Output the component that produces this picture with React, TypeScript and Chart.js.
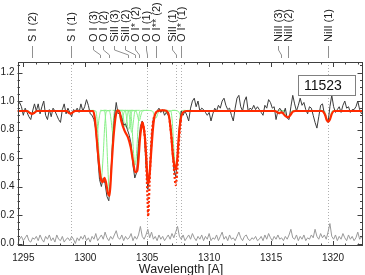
import { useEffect, useRef } from "react";
import { Chart, registerables } from "chart.js";
Chart.register(...registerables);

// ---- data ----
const obsStart = 1294.55;
const obsStep = 0.15;
const obsFlux = [
  0.97, 0.99, 0.96, 0.90, 0.95, 0.92, 0.89, 0.87, 0.93, 0.98,
  0.93, 0.98, 0.91, 0.96, 1.00, 0.90, 0.87, 0.94, 0.89, 0.95,
  0.93, 0.90, 0.87, 0.85, 0.94, 0.98, 0.91, 0.95, 0.92, 0.89,
  0.94, 0.93, 0.95, 0.92, 0.98, 0.93, 0.96, 1.01, 0.97, 0.91,
  0.90, 0.87, 0.80, 0.62, 0.45, 0.40, 0.46, 0.42, 0.33, 0.30,
  0.45, 0.70, 0.88, 0.99, 0.91, 0.92, 0.88, 0.83, 0.84, 0.80,
  0.76, 0.70, 0.55, 0.46, 0.50, 0.70, 0.82, 0.86, 0.80, 0.55,
  0.38, 0.50, 0.75, 0.88, 0.90, 0.93, 0.95, 0.92, 0.94, 0.90,
  0.92, 0.90, 0.86, 0.72, 0.52, 0.47, 0.60, 0.82, 0.93, 0.90,
  0.93, 0.90, 0.86, 0.95, 1.00, 1.02, 0.96, 1.00, 0.93, 0.95,
  0.94, 0.92, 0.90, 0.92, 0.86, 0.91, 0.95, 0.93, 0.97, 0.95,
  1.00, 1.02, 0.97, 0.94, 0.95, 0.90, 0.86, 0.95, 1.02, 1.04,
  0.96, 0.93, 1.00, 1.03, 0.93, 0.95, 0.94, 0.97, 0.94, 0.96,
  0.94, 0.92, 0.90, 0.97, 0.95, 1.01, 0.99, 0.95, 0.96, 0.87,
  0.93, 0.95, 0.93, 0.91, 0.95, 0.88, 0.87, 0.96, 1.04, 0.98,
  0.93, 0.97, 1.02, 0.97, 0.99, 0.94, 0.91, 0.96, 0.95, 0.90,
  0.85, 0.81, 0.89, 0.97, 0.98, 0.91, 0.88, 0.85, 0.96, 1.04,
  0.96, 0.92, 0.94, 0.96, 0.92, 0.97, 1.00, 0.95, 0.96, 0.92,
  0.94, 0.94, 0.96, 1.00, 0.94, 0.91, 0.93,
];
const errFlux = [
  0.00, 0.03, 0.05, 0.02, 0.04, 0.06, 0.02, 0.01, 0.04, 0.03,
  0.05, 0.02, 0.06, 0.03, 0.01, 0.05, 0.03, 0.06, 0.02, 0.04,
  0.01, 0.06, 0.03, 0.02, 0.05, 0.01, 0.03, 0.04, 0.02, 0.05,
  0.03, 0.00, 0.04, 0.02, 0.05, 0.03, 0.06, 0.02, 0.04, 0.01,
  0.05, 0.03, 0.07, 0.02, 0.04, 0.06, 0.03, 0.08, 0.04, 0.02,
  0.05, 0.03, 0.06, 0.09, 0.04, 0.03, 0.06, 0.02, 0.05, 0.03,
  0.04, 0.07, 0.02, 0.05, 0.03, 0.06, 0.12, 0.05, 0.03, 0.06,
  0.10, 0.04, 0.08, 0.03, 0.05, 0.02, 0.06, 0.03, 0.05, 0.02,
  0.04, 0.06, 0.03, 0.07, 0.04, 0.08, 0.12, 0.05, 0.03, 0.06,
  0.02, 0.04, 0.06, 0.03, 0.07, 0.04, 0.02, 0.05, 0.03, 0.06,
  0.02, 0.05, 0.03, 0.07, 0.02, 0.04, 0.03, 0.06, 0.02, 0.05,
  0.08, 0.03, 0.05, 0.02, 0.06, 0.03, 0.04, 0.02, 0.05, 0.08,
  0.04, 0.02, 0.05, 0.06, 0.03, 0.02, 0.04, 0.03, 0.05, 0.02,
  0.03, 0.05, 0.02, 0.06, 0.03, 0.07, 0.04, 0.02, 0.05, 0.03,
  0.06, 0.03, 0.04, 0.02, 0.05, 0.03, 0.06, 0.10, 0.04, 0.03,
  0.06, 0.02, 0.05, 0.03, 0.06, 0.02, 0.04, 0.03, 0.06, 0.04,
  0.10, 0.05, 0.03, 0.07, 0.04, 0.06, 0.03, 0.08, 0.14, 0.05,
  0.03, 0.06, 0.02, 0.05, 0.03, 0.07, 0.04, 0.02, 0.06, 0.03,
  0.05, 0.02, 0.04, 0.08, 0.03, 0.05, 0.02,
];

const modelWave = [
  1294.5, 1295.3, 1295.5, 1295.7, 1295.9, 1296.1, 1298.5, 1298.68, 1298.82, 1298.98,
  1299.2, 1300.5, 1300.63, 1300.76, 1300.89, 1301.03, 1301.17, 1301.3, 1301.43, 1301.55,
  1301.67, 1301.84, 1301.96, 1302.1, 1302.24, 1302.38, 1302.51, 1302.64, 1302.78, 1302.91,
  1303.18, 1303.45, 1303.67, 1303.85, 1304.04, 1304.2, 1304.31, 1304.42, 1304.52, 1304.6,
  1304.68, 1304.8, 1304.93, 1305.03, 1305.1, 1305.18, 1305.33, 1305.47, 1305.61, 1305.87,
  1306.14, 1306.41, 1306.68, 1306.82, 1306.95, 1307.08, 1307.22, 1307.32, 1307.43, 1307.54,
  1307.7, 1307.89, 1308.16, 1315.3, 1315.5, 1315.65, 1315.8, 1315.95, 1316.15, 1316.35,
  1316.55, 1316.75, 1316.95, 1319.1, 1319.35, 1319.5, 1319.62, 1319.75, 1319.9, 1320.1,
  1322.5,
];
const modelFlux = [
  0.93, 0.93, 0.918, 0.91, 0.918, 0.93, 0.93, 0.916, 0.912, 0.92,
  0.93, 0.93, 0.93, 0.885, 0.77, 0.63, 0.51, 0.44, 0.43, 0.46,
  0.43, 0.35, 0.335, 0.51, 0.70, 0.84, 0.92, 0.935, 0.92, 0.86,
  0.79, 0.745, 0.675, 0.58, 0.50, 0.51, 0.605, 0.74, 0.81, 0.85,
  0.83, 0.76, 0.60, 0.45, 0.42, 0.47, 0.65, 0.81, 0.90, 0.93,
  0.935, 0.935, 0.92, 0.86, 0.75, 0.61, 0.54, 0.52, 0.60, 0.74,
  0.87, 0.92, 0.93, 0.93, 0.922, 0.915, 0.92, 0.915, 0.895, 0.885,
  0.90, 0.925, 0.93, 0.93, 0.905, 0.865, 0.855, 0.87, 0.91, 0.93,
  0.93,
];
// unconvolved model, only where it departs from the solid curve
const dottedWave = [
  1304.6, 1304.68, 1304.8, 1304.9, 1304.97, 1305.03, 1305.08, 1305.14, 1305.2, 1305.28,
  1305.38, 1305.5, 1305.61, 1306.2, 1306.82, 1306.95, 1307.08, 1307.2, 1307.3, 1307.4,
  1307.5, 1307.6, 1307.72,
];
const dottedFlux = [
  0.85, 0.83, 0.76, 0.62, 0.45, 0.30, 0.19, 0.30, 0.45, 0.62,
  0.78, 0.87, 0.90, null, 0.86, 0.75, 0.62, 0.48, 0.41, 0.48,
  0.62, 0.76, 0.87,
];

// individual velocity-component profiles: [wavelength, flux] pairs
const greenProfiles: number[][][] = [
  [[1294.9, 0.935], [1295.4, 0.93], [1295.55, 0.92], [1295.68, 0.912], [1295.81, 0.92], [1295.96, 0.93], [1296.5, 0.935]],
  [[1298.0, 0.935], [1298.55, 0.93], [1298.7, 0.92], [1298.82, 0.912], [1298.95, 0.92], [1299.1, 0.93], [1299.6, 0.935]],
  [[1300.2, 0.935], [1300.65, 0.93], [1300.78, 0.88], [1300.88, 0.81], [1300.95, 0.78], [1301.02, 0.81], [1301.12, 0.88], [1301.25, 0.93], [1301.7, 0.935]],
  [[1300.5, 0.935], [1300.85, 0.93], [1300.98, 0.84], [1301.1, 0.64], [1301.2, 0.50], [1301.28, 0.44], [1301.36, 0.50], [1301.46, 0.64], [1301.58, 0.84], [1301.72, 0.93], [1302.1, 0.935]],
  [[1301.2, 0.935], [1301.55, 0.93], [1301.68, 0.82], [1301.8, 0.58], [1301.9, 0.40], [1301.96, 0.345], [1302.02, 0.40], [1302.12, 0.58], [1302.24, 0.82], [1302.37, 0.93], [1302.8, 0.935]],
  [[1301.5, 0.935], [1301.95, 0.93], [1302.08, 0.87], [1302.18, 0.79], [1302.25, 0.76], [1302.32, 0.79], [1302.42, 0.87], [1302.55, 0.93], [1303.0, 0.935]],
  [[1302.2, 0.935], [1302.65, 0.93], [1302.78, 0.9], [1302.86, 0.87], [1302.92, 0.86], [1302.98, 0.87], [1303.06, 0.9], [1303.19, 0.93], [1303.6, 0.935]],
  [[1302.5, 0.935], [1302.95, 0.93], [1303.08, 0.88], [1303.16, 0.83], [1303.22, 0.82], [1303.28, 0.83], [1303.36, 0.88], [1303.49, 0.93], [1303.9, 0.935]],
  [[1302.8, 0.935], [1303.23, 0.93], [1303.36, 0.87], [1303.44, 0.81], [1303.5, 0.80], [1303.56, 0.81], [1303.64, 0.87], [1303.77, 0.93], [1304.2, 0.935]],
  [[1303.0, 0.935], [1303.48, 0.93], [1303.61, 0.86], [1303.69, 0.8], [1303.75, 0.78], [1303.81, 0.8], [1303.89, 0.86], [1304.02, 0.93], [1304.4, 0.935]],
  [[1303.2, 0.935], [1303.62, 0.93], [1303.76, 0.84], [1303.88, 0.66], [1303.97, 0.57], [1304.02, 0.55], [1304.07, 0.57], [1304.16, 0.66], [1304.28, 0.84], [1304.42, 0.93], [1304.8, 0.935]],
  [[1303.6, 0.935], [1304.08, 0.93], [1304.21, 0.9], [1304.29, 0.87], [1304.35, 0.86], [1304.41, 0.87], [1304.49, 0.9], [1304.62, 0.93], [1305.0, 0.935]],
  [[1304.9, 0.935], [1305.42, 0.93], [1305.55, 0.905], [1305.63, 0.885], [1305.69, 0.88], [1305.75, 0.885], [1305.83, 0.905], [1305.96, 0.93], [1306.4, 0.935]],
  [[1305.8, 0.935], [1306.35, 0.93], [1306.5, 0.92], [1306.6, 0.915], [1306.7, 0.92], [1306.85, 0.93], [1307.3, 0.935]],
  [[1306.5, 0.935], [1306.9, 0.93], [1307.02, 0.86], [1307.14, 0.68], [1307.24, 0.56], [1307.32, 0.53], [1307.4, 0.56], [1307.5, 0.68], [1307.62, 0.86], [1307.74, 0.93], [1308.1, 0.935]],
  [[1307.0, 0.935], [1307.48, 0.93], [1307.6, 0.915], [1307.67, 0.905], [1307.72, 0.90], [1307.77, 0.905], [1307.84, 0.915], [1307.96, 0.93], [1308.5, 0.935]],
  [[1315.0, 0.935], [1315.42, 0.93], [1315.55, 0.92], [1315.65, 0.915], [1315.75, 0.92], [1315.88, 0.93], [1316.2, 0.935]],
  [[1315.6, 0.935], [1316.05, 0.93], [1316.2, 0.905], [1316.3, 0.89], [1316.36, 0.885], [1316.42, 0.89], [1316.52, 0.905], [1316.67, 0.93], [1317.1, 0.935]],
  [[1318.9, 0.935], [1319.3, 0.93], [1319.43, 0.9], [1319.54, 0.865], [1319.62, 0.855], [1319.7, 0.865], [1319.81, 0.9], [1319.94, 0.93], [1320.3, 0.935]],
];

const lineLabels = [
  "S I (2)", "S I (1)", "O I (3)", "O I (2)", "SiII (3)", "SiII (2)", "O I* (2)",
  "O I (1)", "O I** (2)", "SiII (1)", "O I* (1)", "NiII (3)", "NiII (2)", "NiII (1)",
];
// where each label sits, and the rest wavelength the connector points to
const labelWave = [
  1295.68, 1298.83, 1300.65, 1301.41, 1302.34, 1303.21, 1304.02,
  1304.88, 1305.69, 1306.98, 1307.73, 1315.53, 1316.39, 1319.6,
];
const lineWave = [
  1295.68, 1298.83, 1301.19, 1301.94, 1303.47, 1304.02, 1304.36,
  1305.0, 1305.69, 1307.32, 1307.73, 1315.8, 1316.39, 1319.6,
];
const markedLines = [1298.83, 1305.02, 1307.3, 1307.7, 1319.6];

const xTicks = [1295, 1300, 1305, 1310, 1315, 1320];
const yTicks = [0.0, 0.2, 0.4, 0.6, 0.8, 1.0, 1.2];
const xTitle = "Wavelength [A]";
const objectId = "11523";

const FONT = '"Liberation Sans", Arial, Helvetica, sans-serif';

const decorPlugin = {
  id: "decor",
  beforeDatasetsDraw(chart: any) {
    const { ctx, chartArea: a, scales } = chart;
    const x = scales.x;
    ctx.save();
    ctx.strokeStyle = "#b0b0b0";
    ctx.lineWidth = 1;
    ctx.setLineDash([1, 2]);
    for (const w of markedLines) {
      const px = Math.round(x.getPixelForValue(w)) + 0.5;
      ctx.beginPath();
      ctx.moveTo(px, a.top);
      ctx.lineTo(px, a.bottom);
      ctx.stroke();
    }
    ctx.restore();
  },
  afterDraw(chart: any) {
    const { ctx, chartArea: a, scales } = chart;
    const x = scales.x;
    const y = scales.y;
    ctx.save();
    // frame
    ctx.strokeStyle = "#404040";
    ctx.lineWidth = 1;
    ctx.strokeRect(Math.round(a.left) + 0.5, Math.round(a.top) + 0.5, Math.round(a.right - a.left) - 1, Math.round(a.bottom - a.top) - 1);
    // ticks
    ctx.beginPath();
    for (let v = Math.ceil(x.min); v <= Math.floor(x.max); v++) {
      const len = v % 5 === 0 ? 5 : 2.5;
      const px = Math.round(x.getPixelForValue(v)) + 0.5;
      ctx.moveTo(px, a.bottom);
      ctx.lineTo(px, a.bottom - len);
      ctx.moveTo(px, a.top);
      ctx.lineTo(px, a.top + len);
    }
    for (let k = 0; k * 0.05 <= y.max; k++) {
      const v = k * 0.05;
      const len = k % 4 === 0 ? 5 : 2.5;
      const py = Math.round(y.getPixelForValue(v)) + 0.5;
      ctx.moveTo(a.left, py);
      ctx.lineTo(a.left + len, py);
      ctx.moveTo(a.right, py);
      ctx.lineTo(a.right - len, py);
    }
    ctx.stroke();
    // tick labels
    ctx.fillStyle = "#202020";
    ctx.font = `10px ${FONT}`;
    ctx.textAlign = "center";
    ctx.textBaseline = "middle";
    for (const v of xTicks) ctx.fillText(String(v), x.getPixelForValue(v), 258);
    ctx.textAlign = "right";
    for (const v of yTicks) ctx.fillText(v.toFixed(1), a.left - 3, y.getPixelForValue(v));
    ctx.textAlign = "center";
    ctx.font = `12.5px ${FONT}`;
    ctx.fillText(xTitle, 181, 270);
    // line labels and connectors
    ctx.strokeStyle = "#909090";
    ctx.lineWidth = 1;
    for (let i = 0; i < lineLabels.length; i++) {
      const lx = Math.round(x.getPixelForValue(labelWave[i])) + 0.5;
      const bx = Math.round(x.getPixelForValue(lineWave[i])) + 0.5;
      ctx.beginPath();
      ctx.moveTo(lx, 46);
      ctx.lineTo(lx, 50);
      ctx.lineTo(bx, 55);
      ctx.lineTo(bx, 58);
      ctx.stroke();
      ctx.save();
      ctx.translate(lx, 42);
      ctx.rotate(-Math.PI / 2);
      ctx.textAlign = "left";
      ctx.textBaseline = "middle";
      ctx.font = `11px ${FONT}`;
      ctx.fillStyle = "#202020";
      ctx.fillText(lineLabels[i], 0, 0);
      ctx.restore();
    }
    // id box
    ctx.fillStyle = "#ffffff";
    ctx.fillRect(298.5, 75.5, 57, 20);
    ctx.strokeStyle = "#808080";
    ctx.strokeRect(298.5, 75.5, 57, 20);
    ctx.fillStyle = "#101010";
    ctx.font = `14px ${FONT}`;
    ctx.textAlign = "left";
    ctx.textBaseline = "middle";
    ctx.fillText(objectId, 304, 86);
    ctx.restore();
  },
};

export default function App() {
  const ref = useRef<HTMLCanvasElement | null>(null);
  useEffect(() => {
    document.body.style.margin = "0";
    const canvas = ref.current;
    if (!canvas) return;
    const obsData = obsFlux.map((v, i) => ({ x: obsStart + i * obsStep, y: v }));
    const errData = errFlux.map((v, i) => ({ x: obsStart + i * obsStep, y: v }));
    const modelData = modelWave.map((w, i) => ({ x: w, y: modelFlux[i] }));
    const dottedData = dottedWave.map((w, i) => ({ x: w, y: dottedFlux[i] }));
    const smooth = { tension: 0.4, cubicInterpolationMode: "monotone" as const };
    const datasets: any[] = [
      { data: dottedData, borderColor: "#ff2a00", borderWidth: 2.2, borderDash: [2, 2], spanGaps: false, ...smooth },
      { data: modelData, borderColor: "#ff2a00", borderWidth: 2.2, ...smooth },
      { data: obsData, borderColor: "#3c3c3c", borderWidth: 1, tension: 0 },
      ...greenProfiles.map((p) => ({
        data: p.map((q) => ({ x: q[0], y: q[1] })),
        borderColor: "#86f086",
        borderWidth: 1,
        ...smooth,
      })),
      { data: errData, borderColor: "#9a9a9a", borderWidth: 1, tension: 0 },
    ];
    const chart = new Chart(canvas, {
      type: "line",
      data: { datasets },
      options: {
        responsive: false,
        animation: false,
        devicePixelRatio: 1,
        parsing: false as any,
        normalized: true,
        layout: { padding: { left: 17.5, right: 2.5, top: 62, bottom: 29 } },
        elements: { point: { radius: 0 } },
        plugins: { legend: { display: false }, tooltip: { enabled: false } },
        scales: {
          x: { type: "linear", min: 1294.53, max: 1322.38, display: false },
          y: { type: "linear", min: -0.0175, max: 1.274, display: false },
        },
      },
      plugins: [decorPlugin],
    });
    return () => chart.destroy();
  }, []);
  return <canvas ref={ref} width={365} height={275} style={{ display: "block" }} />;
}
